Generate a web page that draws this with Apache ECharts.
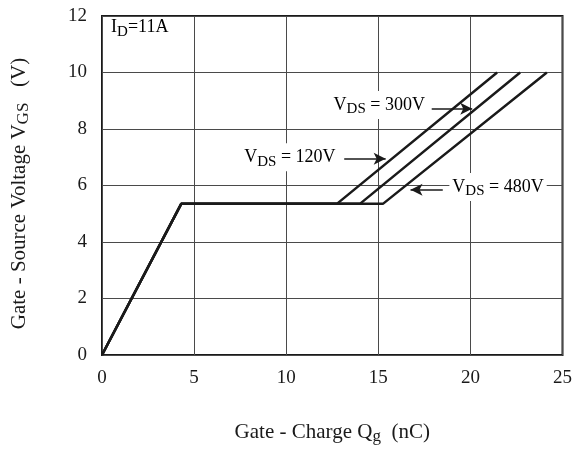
<!DOCTYPE html>
<html><head><meta charset="utf-8">
<script src="https://cdn.jsdelivr.net/npm/echarts@6/dist/echarts.min.js"></script>
<style>html,body{margin:0;padding:0;background:#fff}#c{width:575px;height:450px}</style>
</head><body><div id="c"></div>
<script>
// ---- data ----
const xTicks = [0, 5, 10, 15, 20, 25];
const yTicks = [0, 2, 4, 6, 8, 10, 12];
const seriesNames = ['VDS = 120V', 'VDS = 300V', 'VDS = 480V'];
const qg120 = [0, 4.3, 12.75, 21.45];
const vgs120 = [0, 5.35, 5.35, 10];
const qg300 = [0, 4.3, 14.0, 22.7];
const vgs300 = [0, 5.35, 5.35, 10];
const qg480 = [0, 4.3, 15.25, 24.15];
const vgs480 = [0, 5.35, 5.35, 10];

// ---- styling / layout ----
const FONT = "'Liberation Serif','Times New Roman',serif";
const INK = '#1a1a1a';
const rich = {
  n: { fontSize: 18, fontFamily: FONT, color: INK, lineHeight: 24 },
  s: { fontSize: 15, fontFamily: FONT, color: INK, lineHeight: 12, verticalAlign: 'bottom' }
};
const titleRich = {
  n: { fontSize: 21, fontFamily: FONT, color: INK, lineHeight: 26 },
  s: { fontSize: 17, fontFamily: FONT, color: INK, lineHeight: 12, verticalAlign: 'bottom' }
};
const pairs = (xs, ys) => xs.map((x, i) => [x, ys[i]]);

// annotation placements (data units)
const labels = [
  { text: '{n|V}{s|DS}{n| = 300V}', at: [15.05, 8.85] },
  { text: '{n|V}{s|DS}{n| = 120V}', at: [10.2, 7.0] },
  { text: '{n|V}{s|DS}{n| = 480V}', at: [21.5, 5.95] },
  { text: '{n|I}{s|D}{n|=11A}', at: [2.05, 11.6], plain: true }
];
const arrows = [
  [[17.9, 8.72], [20.1, 8.72]],
  [[13.15, 6.95], [15.4, 6.95]],
  [[18.5, 5.85], [16.75, 5.85]]
];

const chart = echarts.init(document.getElementById('c'), null, { renderer: 'canvas' });
const lineStyle = { color: INK, width: 2.5 };
const option = {
  animation: false,
  backgroundColor: '#fff',
  grid: { left: 102, right: 12, top: 16, bottom: 95, show: true, borderColor: INK, borderWidth: 2, backgroundColor: 'transparent' },
  xAxis: {
    type: 'value', min: xTicks[0], max: xTicks[xTicks.length - 1], interval: 5,
    axisLine: { show: false }, axisTick: { show: false },
    splitLine: { show: true, lineStyle: { color: '#4a4a4a', width: 1 } },
    axisLabel: { fontFamily: FONT, fontSize: 19, color: INK, margin: 14 },
    name: '{n|Gate - Charge Q}{s|g}{n|  (nC)}', nameLocation: 'middle', nameGap: 64,
    nameTextStyle: { rich: titleRich }
  },
  yAxis: {
    type: 'value', min: yTicks[0], max: yTicks[yTicks.length - 1], interval: 2,
    axisLine: { show: false }, axisTick: { show: false },
    splitLine: { show: true, lineStyle: { color: '#4a4a4a', width: 1 } },
    axisLabel: { fontFamily: FONT, fontSize: 19, color: INK, margin: 15 },
    name: '{n|Gate - Source Voltage V}{s|GS}{n|   (V)}', nameLocation: 'middle', nameGap: 70, nameRotate: 90,
    nameTextStyle: { rich: titleRich, padding: [0, 16, 0, 0] }
  },
  series: [
    { name: seriesNames[0], type: 'line', data: pairs(qg120, vgs120), symbol: 'none', lineStyle, z: 3 },
    { name: seriesNames[1], type: 'line', data: pairs(qg300, vgs300), symbol: 'none', lineStyle, z: 3 },
    { name: seriesNames[2], type: 'line', data: pairs(qg480, vgs480), symbol: 'none', lineStyle, z: 3 },
    {
      type: 'line', data: [], z: 4,
      markLine: {
        silent: true, symbol: ['none', 'arrow'], symbolSize: [9, 12],
        lineStyle: { color: INK, width: 1.5, type: 'solid' }, label: { show: false },
        data: arrows.map(a => [{ coord: a[0] }, { coord: a[1] }])
      }
    }
  ]
};
chart.setOption(option);

const graphics = labels.map(l => {
  const p = chart.convertToPixel({ gridIndex: 0 }, l.at);
  return {
    type: 'text', x: p[0], y: p[1], z: 10,
    style: {
      text: l.text, rich, align: 'center', verticalAlign: 'middle',
      backgroundColor: l.plain ? 'transparent' : '#fff', padding: [2, 3, 2, 3]
    }
  };
});
chart.setOption({ graphic: graphics });
</script></body></html>
